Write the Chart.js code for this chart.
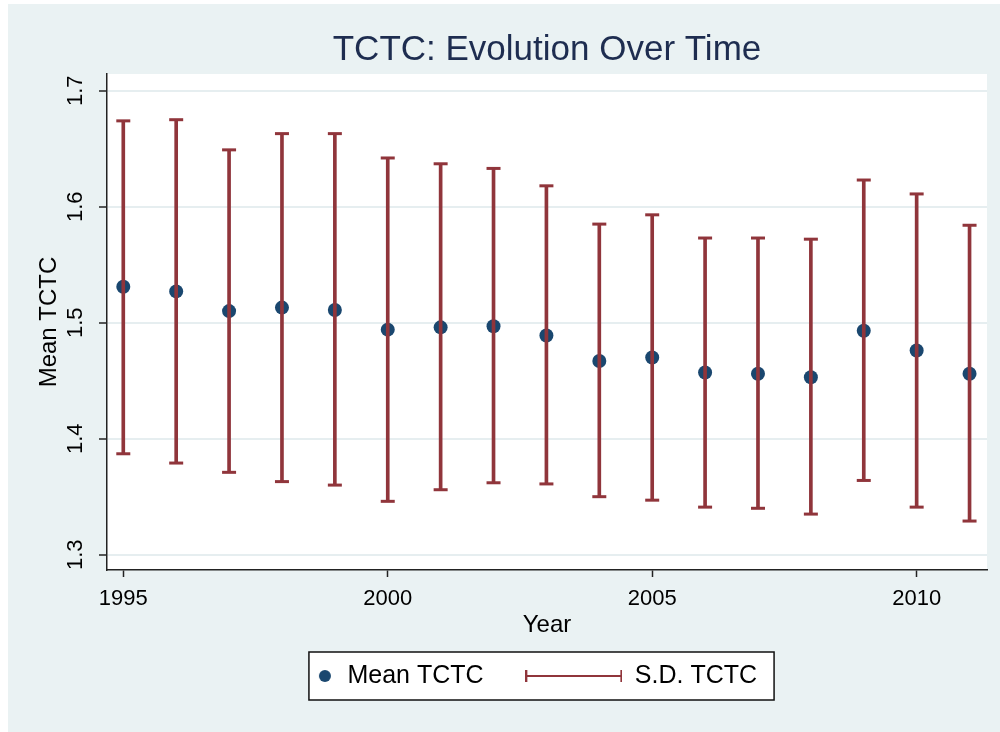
<!DOCTYPE html>
<html>
<head>
<meta charset="utf-8">
<script src="https://cdn.jsdelivr.net/npm/chart.js@4.4.1/dist/chart.umd.min.js"></script>
<style>
  body { margin: 0; background: #fff; }
  #wrap { position: absolute; left: 8px; top: 4px; width: 992px; height: 728px; }
</style>
</head>
<body>
<div id="wrap"><canvas id="myChart" width="992" height="728"></canvas></div>
<script>
const years = [1995, 1996, 1997, 1998, 1999, 2000, 2001, 2002, 2003, 2004, 2005, 2006, 2007, 2008, 2009, 2010, 2011];
const meanTCTC = [1.531, 1.527, 1.510, 1.513, 1.511, 1.494, 1.496, 1.497, 1.489, 1.467, 1.470, 1.457, 1.456, 1.453, 1.493, 1.476, 1.456];
const sdHigh = [1.674, 1.675, 1.649, 1.663, 1.663, 1.642, 1.637, 1.633, 1.618, 1.585, 1.593, 1.573, 1.573, 1.572, 1.623, 1.611, 1.584];
const sdLow = [1.387, 1.379, 1.371, 1.363, 1.360, 1.346, 1.356, 1.362, 1.361, 1.350, 1.347, 1.341, 1.340, 1.335, 1.364, 1.341, 1.329];
const xTicks = [1995, 2000, 2005, 2010];
const yTicks = [1.3, 1.4, 1.5, 1.6, 1.7];

const navy = '#1a476f';
const maroon = '#90353b';
const fontFamily = '"Liberation Sans", Arial, Helvetica, sans-serif';

// legend keys, drawn once on small canvases
function meanKey() {
    const c = document.createElement('canvas');
    c.width = 97; c.height = 14;
    const g = c.getContext('2d');
    g.fillStyle = navy;
    g.beginPath();
    g.arc(87, 7, 6, 0, Math.PI * 2);
    g.fill();
    return c;
}
function sdKey() {
    const c = document.createElement('canvas');
    c.width = 97; c.height = 14;
    const g = c.getContext('2d');
    g.strokeStyle = maroon;
    g.lineWidth = 2;
    g.beginPath();
    g.moveTo(1, 7); g.lineTo(96, 7);
    g.moveTo(1, 1); g.lineTo(1, 13);
    g.moveTo(96, 1); g.lineTo(96, 13);
    g.stroke();
    return c;
}
const keyMean = meanKey();
const keySd = sdKey();

function legendRect(chart) {
    const boxes = chart.legend.legendHitBoxes;
    if (!boxes || boxes.length < 2) return null;
    const first = boxes[0], last = boxes[boxes.length - 1];
    const left = first.left + 71;
    const right = last.left + last.width + 17;
    const mid = first.top + first.height / 2;
    return {x: left, y: mid - 24, w: right - left, h: 48};
}

const bgPlugin = {
    id: 'bg',
    beforeDraw(chart) {
        const {ctx, chartArea: a} = chart;
        ctx.save();
        ctx.fillStyle = '#eaf2f3';
        ctx.fillRect(0, 0, chart.width, chart.height);
        ctx.fillStyle = '#ffffff';
        ctx.fillRect(a.left, a.top, a.right - a.left, a.bottom - a.top);
        const r = legendRect(chart);
        if (r) {
            ctx.fillRect(r.x, r.y, r.w, r.h);
            ctx.strokeStyle = '#111';
            ctx.lineWidth = 1.5;
            ctx.strokeRect(r.x, r.y, r.w, r.h);
        }
        ctx.restore();
    }
};

const config = {
    type: 'bar',
    data: {
        datasets: [
            {
                type: 'scatter',
                label: 'Mean TCTC',
                data: years.map((y, i) => ({x: y, y: meanTCTC[i]})),
                pointStyle: 'circle',
                pointRadius: 7,
                pointBackgroundColor: navy,
                pointBorderWidth: 0,
                order: 3
            },
            {
                type: 'bar',
                label: 'S.D. TCTC',
                data: years.map((y, i) => ({x: y, y: [sdLow[i], sdHigh[i]]})),
                backgroundColor: maroon,
                borderWidth: 0,
                barThickness: 3,
                grouped: false,
                order: 2
            },
            {
                type: 'scatter',
                label: 'caps',
                data: years.map((y, i) => ({x: y, y: sdHigh[i]}))
                    .concat(years.map((y, i) => ({x: y, y: sdLow[i]}))),
                pointStyle: 'line',
                pointRadius: 7,
                pointBorderColor: maroon,
                pointBorderWidth: 3,
                order: 1
            }
        ]
    },
    options: {
        responsive: false,
        animation: false,
        layout: { padding: { left: 0, right: 13, top: 0, bottom: 33.5 } },
        plugins: {
            tooltip: { enabled: false },
            title: {
                display: true,
                fullSize: false,
                text: 'TCTC: Evolution Over Time',
                color: '#1e2d50',
                font: { family: fontFamily, size: 35, weight: 'normal', lineHeight: 1.2 },
                padding: { top: 25, bottom: 3 }
            },
            legend: {
                position: 'bottom',
                labels: {
                    usePointStyle: true,
                    pointStyleWidth: 97,
                    padding: 14,
                    color: '#000',
                    font: { family: fontFamily, size: 25 },
                    generateLabels: function () {
                        return [
                            { text: 'Mean TCTC    ', pointStyle: keyMean, datasetIndex: 0, hidden: false, lineWidth: 0, fontColor: '#000' },
                            { text: 'S.D. TCTC', pointStyle: keySd, datasetIndex: 1, hidden: false, lineWidth: 0, fontColor: '#000' }
                        ];
                    }
                }
            }
        },
        scales: {
            x: {
                type: 'linear',
                offset: false,
                min: 1994.692,
                max: 2011.33,
                afterBuildTicks: function (scale) {
                    scale.ticks = xTicks.map(v => ({value: v}));
                },
                afterFit: function (scale) {
                    scale.height = 79.5;
                },
                ticks: {
                    color: '#000',
                    padding: 9,
                    maxRotation: 0,
                    font: { family: fontFamily, size: 22 },
                    callback: v => String(v)
                },
                grid: {
                    offset: false,
                    drawOnChartArea: false,
                    tickLength: 7,
                    tickColor: '#222',
                    tickWidth: 1.5
                },
                border: { color: '#222', width: 1.5 },
                title: {
                    display: true,
                    text: 'Year',
                    color: '#000',
                    font: { family: fontFamily, size: 24, lineHeight: 1.2 },
                    padding: { top: 0, bottom: 10.1 }
                }
            },
            y: {
                type: 'linear',
                min: 1.2868,
                max: 1.7144,
                afterBuildTicks: function (scale) {
                    scale.ticks = yTicks.map(v => ({value: v}));
                },
                afterFit: function (scale) {
                    scale.width = 99;
                },
                ticks: {
                    color: '#000',
                    padding: 8,
                    minRotation: 90,
                    maxRotation: 90,
                    crossAlign: 'center',
                    font: { family: fontFamily, size: 22 },
                    callback: v => v.toFixed(1)
                },
                grid: {
                    color: '#e6eef0',
                    lineWidth: 2,
                    tickLength: 8,
                    tickColor: '#222',
                    tickWidth: 1.5
                },
                border: { color: '#222', width: 1.5 },
                title: {
                    display: true,
                    text: 'Mean TCTC',
                    color: '#000',
                    font: { family: fontFamily, size: 24, lineHeight: 1.2 },
                    padding: { top: 27, bottom: 0 }
                }
            }
        }
    },
    plugins: [bgPlugin]
};

const myChart = new Chart(
    document.getElementById('myChart'),
    config
);
</script>
</body>
</html>
